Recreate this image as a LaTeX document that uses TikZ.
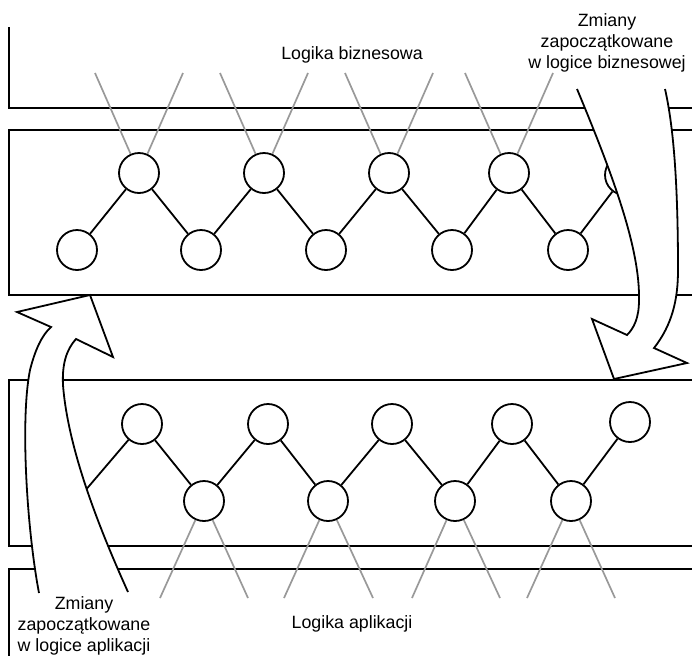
\documentclass[tikz,border=0pt]{standalone}
\usepackage{fontspec}
\setmainfont{Liberation Sans}

\begin{document}
\begin{tikzpicture}[x=1pt, y=-1pt, line width=1.8pt,
    circ/.style={circle, draw, fill=white, inner sep=0, minimum size=40pt},
    greyline/.style={draw=black!40, line width=1.7pt},
    txt/.style={font=\fontsize{17.8}{21}\selectfont, align=center, inner sep=0},
    blockarrow/.style={fill=white, draw, line width=1.8pt, line join=miter}]

        \useasboundingbox (0,0) rectangle (692,656);

        %===========================
        % Bands
        %===========================

        \draw (9,27) -- (9,108) -- (692,108);
        \draw (692,130) -- (9,130) -- (9,295) -- (692,295);
        \draw (692,380) -- (9,380) -- (9,546) -- (692,546);
        \draw (692,569) -- (9,569) -- (9,656);

        %===========================
        % Business logic
        %===========================
        \node[circ] (BU1) at (139,173) {};
        \node[circ] (BU2) at (264,173) {};
        \node[circ] (BU3) at (389,173) {};
        \node[circ] (BU4) at (509,173) {};
        \node[circ] (BU5) at (625,175) {};
        \node[circ] (BL1) at (77,250) {};
        \node[circ] (BL2) at (201,250) {};
        \node[circ] (BL3) at (326,250) {};
        \node[circ] (BL4) at (452,250) {};
        \node[circ] (BL5) at (568,250) {};
        \draw (BL1) -- (BU1) -- (BL2) -- (BU2) -- (BL3) -- (BU3) -- (BL4) -- (BU4) -- (BL5) -- (BU5);

        % grey links upwards
        \coordinate (gb1) at (95,73);  \coordinate (gb2) at (183,73);
        \coordinate (gb3) at (220,73); \coordinate (gb4) at (308,73);
        \coordinate (gb5) at (345,73); \coordinate (gb6) at (433,73);
        \coordinate (gb7) at (465,73); \coordinate (gb8) at (553,73);
        \draw[greyline] (gb1) -- (BU1) -- (gb2);
        \draw[greyline] (gb3) -- (BU2) -- (gb4);
        \draw[greyline] (gb5) -- (BU3) -- (gb6);
        \draw[greyline] (gb7) -- (BU4) -- (gb8);

        %===========================
        % Application logic
        %===========================
        \node[circ] (AU1) at (142,424) {};
        \node[circ] (AU2) at (268,424) {};
        \node[circ] (AU3) at (392,424) {};
        \node[circ] (AU4) at (512,424) {};
        \node[circ] (AU5) at (630,422) {};
        \node[circ] (AL1) at (204,501) {};
        \node[circ] (AL2) at (328,501) {};
        \node[circ] (AL3) at (455,501) {};
        \node[circ] (AL4) at (571,501) {};
        \coordinate (AL0) at (84,492);
        \draw (AL0) -- (AU1) -- (AL1) -- (AU2) -- (AL2) -- (AU3) -- (AL3) -- (AU4) -- (AL4) -- (AU5);

        % grey links downwards
        \coordinate (ga1) at (160,598); \coordinate (ga2) at (248,598);
        \coordinate (ga3) at (284,598); \coordinate (ga4) at (373,598);
        \coordinate (ga5) at (412,598); \coordinate (ga6) at (500,598);
        \coordinate (ga7) at (527,598); \coordinate (ga8) at (615,598);
        \draw[greyline] (ga1) -- (AL1) -- (ga2);
        \draw[greyline] (ga3) -- (AL2) -- (ga4);
        \draw[greyline] (ga5) -- (AL3) -- (ga6);
        \draw[greyline] (ga7) -- (AL4) -- (ga8);

        %===========================
        % Arrows
        %===========================

        % Right side: business -> application
        \filldraw[blockarrow] (577,89) .. controls (615,180) and (640,250) .. (639,300)
            .. controls (639,318) and (634,328) .. (627,335) -- (592,319) -- (614,379)
            -- (687,363) -- (654,348) .. controls (672,325) and (678,300) .. (678,270)
            .. controls (678,170) and (672,120) .. (665,89);

        % Left side: application -> business
        \filldraw[blockarrow] (39,593) .. controls (27,530) and (20,420) .. (30,370)
            .. controls (35,350) and (42,335) .. (51,327) -- (17,312) -- (90,295)
            -- (113,357) -- (76,339) .. controls (66,350) and (62,365) .. (63,385)
            .. controls (68,450) and (100,530) .. (128,592);

        %===========================
        % Labels
        %===========================
        \node[txt, anchor=base] (biz) at (352,59) {Logika biznesowa};
        \node[txt, anchor=base] (app) at (352,628) {Logika aplikacji};
        \node[txt, anchor=north] (chgbiz) at (607,13) {Zmiany\\zapoczątkowane\\w logice biznesowej};
        \node[txt, anchor=south] (chgapp) at (84,656) {Zmiany\\zapoczątkowane\\w logice aplikacji};

\end{tikzpicture}
\end{document}
